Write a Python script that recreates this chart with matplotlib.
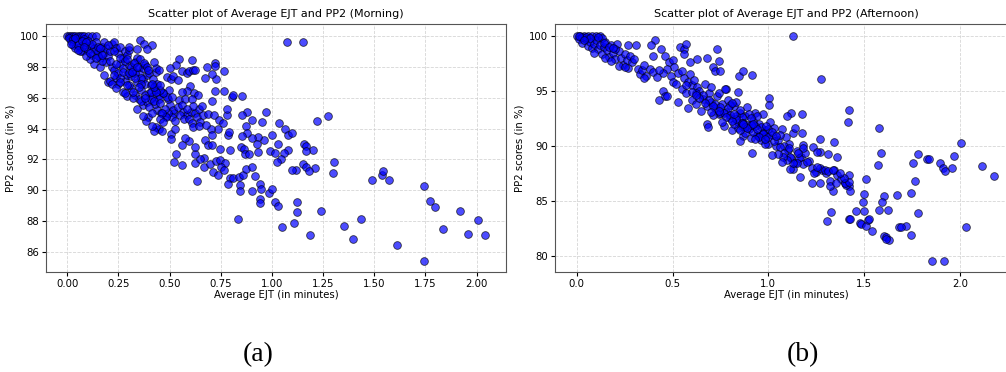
import matplotlib
matplotlib.use("Agg")
import matplotlib.pyplot as plt

# Morning: average EJT (minutes) vs PP2 score (%)
morning_ejt = [
    # dense band near the origin
    0.00, 0.01, 0.02, 0.03, 0.04, 0.05, 0.06, 0.07, 0.08, 0.10, 0.12, 0.14,
    0.02, 0.03, 0.04, 0.05, 0.06, 0.07, 0.08, 0.09, 0.10, 0.11, 0.12, 0.13,
    0.14, 0.15, 0.16, 0.17, 0.18, 0.19, 0.20, 0.21, 0.22, 0.23, 0.24, 0.25,
    0.26, 0.27, 0.28, 0.29, 0.30, 0.13, 0.16, 0.11, 0.09, 0.06, 0.18, 0.20,
    0.21, 0.22, 0.23, 0.24, 0.25, 0.26, 0.27, 0.28, 0.29, 0.30, 0.31, 0.32,
    0.33, 0.34, 0.35, 0.36, 0.37, 0.38, 0.39, 0.40, 0.41, 0.42, 0.43, 0.25,
    0.27, 0.29, 0.31, 0.33, 0.35, 0.37, 0.39, 0.30, 0.32, 0.34, 0.36, 0.28,
    0.26, 0.22, 0.24, 0.19, 0.17, 0.15, 0.14, 0.26, 0.28, 0.31, 0.33, 0.35,
    0.37, 0.40, 0.42, 0.44, 0.38, 0.34, 0.30, 0.36, 0.41, 0.44, 0.43, 0.46,
    0.38, 0.40, 0.45, 0.47, 0.50, 0.49, 0.52, 0.48, 0.01, 0.03, 0.05, 0.08,
    0.10, 0.04, 0.07, 0.12, 0.15, 0.09, 0.18, 0.20, 0.23, 0.16,
    0.02, 0.05, 0.08, 0.11, 0.14, 0.17, 0.21, 0.24, 0.27, 0.30, 0.33, 0.36,
    0.23, 0.26, 0.29, 0.32, 0.35, 0.38, 0.41,
    # upper-middle spread
    0.547, 0.609, 0.529, 0.502, 0.485, 0.505, 0.518, 0.539, 0.560, 0.583,
    0.593, 0.616, 0.624, 0.601, 0.583, 0.559, 0.621, 0.640, 0.544, 0.575,
    0.609, 0.498, 0.485, 0.510, 0.469, 0.453, 0.436, 0.425, 0.412, 0.453,
    0.446, 0.423, 0.453, 0.432, 0.436, 0.423, 0.450, 0.412, 0.355, 0.375,
    0.388, 0.339, 0.355, 0.376, 0.388, 0.396, 0.326, 0.316, 0.339, 0.290,
    # middle cluster
    0.518, 0.542, 0.559, 0.567, 0.583, 0.603, 0.624, 0.645, 0.656, 0.612,
    0.583, 0.550, 0.570, 0.594, 0.632, 0.661, 0.510, 0.493, 0.477, 0.482,
    0.464, 0.453, 0.446, 0.436, 0.425, 0.464, 0.469, 0.412, 0.396, 0.383,
    0.368, 0.412, 0.609, 0.648, 0.614, 0.642,
    # lower-middle spread
    0.855, 0.803, 0.811, 0.764, 0.723, 0.722, 0.728, 0.708, 0.671, 0.684,
    0.765, 0.722, 0.705, 0.687, 0.717, 0.741, 0.759, 0.738, 0.700, 0.678,
    0.707, 0.671, 0.687, 0.708, 0.744, 0.793, 0.783, 0.790, 0.782, 0.779,
    0.666, 0.697, 0.726, 0.746, 0.772, 0.749, 0.765, 0.712, 0.738, 0.795,
    0.785, 0.811, 0.840, 0.857, 0.873, 0.901, 0.917, 0.941, 0.945, 0.904,
    0.844, 0.844, 0.940, 0.940, 0.988, 1.002, 1.016, 1.028, 0.632, 0.668,
    0.622, 0.648, 0.622, 0.622, 0.593, 0.575, 0.562, 0.559, 0.520, 0.533,
    0.505, 0.508, 0.528, 0.526,
    # right tail
    1.075, 1.153, 1.741, 1.773, 1.795, 1.917, 2.005, 1.834, 1.956, 2.041,
    1.609, 1.741, 1.489, 1.536, 1.544, 1.573, 1.435, 1.353, 1.396, 1.239,
    1.184, 1.106, 1.050, 1.122, 1.122, 0.832, 1.274, 1.218, 1.303, 1.298,
    1.210, 1.199, 1.156, 1.169, 1.165, 1.153, 1.169, 1.181, 1.117, 1.096,
    1.036, 1.066, 1.081, 1.096, 1.078, 1.059, 1.029, 1.044, 1.026, 1.002,
    0.993, 1.016, 0.970, 0.954, 0.959, 0.930, 0.904, 0.925, 0.932, 0.904,
    0.876, 0.855, 0.873, 0.878, 0.847, 0.863, 0.868, 0.888, 0.855,
]
morning_pp2 = [
    100.0, 100.0, 100.0, 100.0, 100.0, 100.0, 100.0, 100.0, 100.0, 100.0, 100.0, 100.0,
    99.7, 99.4, 99.2, 99.6, 99.3, 99.0, 99.5, 99.2, 99.0, 99.4, 98.8, 99.2,
    99.6, 99.0, 98.6, 99.3, 98.9, 99.2, 98.7, 99.0, 99.5, 99.6, 99.2, 98.9,
    99.3, 98.6, 99.0, 98.8, 99.1, 98.2, 98.0, 98.5, 98.7, 99.0, 97.5, 97.0,
    97.1, 98.0, 97.8, 97.3, 97.6, 98.2, 97.9, 97.1, 97.5, 98.1, 97.4, 97.8,
    98.3, 97.0, 97.6, 96.5, 97.2, 96.9, 97.5, 96.3, 96.8, 96.1, 96.5, 96.9,
    96.4, 96.1, 96.6, 96.2, 95.9, 95.5, 95.7, 96.8, 96.0, 95.3, 95.8, 96.3,
    97.3, 96.9, 96.6, 98.3, 98.4, 98.7, 99.1, 98.6, 98.4, 98.0, 97.6, 98.0,
    97.9, 97.6, 97.2, 96.9, 98.1, 98.6, 99.3, 97.3, 95.9, 95.2, 95.6, 95.0,
    96.2, 95.4, 96.2, 96.3, 95.5, 95.9, 95.0, 94.8, 99.9, 99.8, 99.4, 99.8,
    99.7, 99.9, 99.7, 99.5, 99.3, 99.6, 99.6, 99.4, 99.0, 99.2,
    99.5, 99.1, 99.3, 98.9, 98.6, 98.8, 98.4, 98.2, 97.7, 97.6, 97.3, 96.9,
    97.5, 97.0, 96.8, 96.4, 96.7, 96.0, 96.4,
    98.48, 98.44, 98.10, 97.90, 97.32, 97.19, 97.40, 97.14, 97.71, 97.58,
    97.73, 97.79, 97.79, 96.75, 96.45, 96.39, 96.32, 96.17, 95.84, 95.89,
    95.93, 96.49, 96.06, 96.06, 96.28, 96.49, 96.39, 96.67, 96.86, 96.82,
    95.89, 95.80, 95.67, 97.68, 97.90, 98.33, 97.79, 99.42, 99.74, 99.46,
    99.16, 99.13, 98.48, 98.23, 97.97, 97.79, 98.23, 97.68, 98.01, 98.48,
    95.19, 95.37, 95.52, 95.09, 94.87, 95.09, 94.98, 95.24, 95.45, 95.45,
    95.30, 94.87, 94.59, 94.59, 94.76, 94.87, 94.76, 94.98, 95.30, 94.76,
    94.98, 94.65, 94.00, 94.11, 93.85, 93.85, 94.44, 94.16, 94.76, 94.50,
    94.83, 94.98, 94.37, 94.44, 94.11, 94.16,
    96.13, 96.04, 96.17, 97.73, 98.23, 98.07, 97.23, 97.53, 97.27, 98.01,
    96.43, 96.41, 95.80, 94.96, 94.87, 94.55, 94.33, 93.96, 93.96, 94.26,
    93.57, 93.29, 92.92, 92.92, 92.68, 92.60, 93.57, 93.79, 94.87, 95.30,
    91.51, 91.73, 91.88, 91.99, 91.75, 91.51, 91.30, 91.19, 91.02, 90.82,
    90.43, 90.82, 90.87, 91.02, 91.41, 91.51, 90.91, 90.43, 90.09, 89.94,
    90.33, 89.96, 89.44, 89.16, 89.85, 90.09, 89.24, 88.98, 90.63, 92.06,
    91.75, 92.03, 92.34, 92.81, 93.20, 93.42, 92.92, 91.62, 91.80, 92.34,
    93.68, 93.33, 93.98, 94.46,
    99.60, 99.60, 90.26, 89.33, 88.92, 88.66, 88.05, 87.47, 87.14, 87.10,
    86.43, 85.39, 90.65, 91.00, 91.28, 90.65, 88.14, 87.66, 86.82, 88.68,
    87.10, 87.86, 87.64, 88.60, 89.24, 88.14, 94.83, 94.52, 91.84, 91.13,
    91.47, 92.64, 93.03, 92.90, 92.55, 91.73, 91.50, 91.27, 91.34, 91.34,
    94.33, 93.96, 93.57, 93.72, 92.64, 92.42, 92.99, 92.01, 91.80, 93.57,
    92.53, 92.42, 95.06, 94.44, 93.29, 93.46, 93.38, 92.99, 92.47, 94.57,
    95.09, 94.89, 94.16, 93.72, 92.81, 92.66, 92.34, 92.34, 93.53,
]

# Afternoon: average EJT (minutes) vs PP2 score (%)
afternoon_ejt = [
    0.00, 0.02, 0.04, 0.06, 0.08, 0.10, 0.12, 0.01, 0.03, 0.05, 0.06, 0.07,
    0.08, 0.09, 0.10, 0.11, 0.12, 0.13, 0.14, 0.15, 0.16, 0.17, 0.18, 0.19,
    0.20, 0.21, 0.22, 0.23, 0.24, 0.25, 0.26, 0.27, 0.28, 0.29, 0.30, 0.31,
    0.27, 0.32, 0.33, 0.34, 0.35, 0.36, 0.13, 0.15, 0.18, 0.20, 0.22, 0.25,
    0.09, 0.11, 0.03, 0.05, 0.07, 0.01, 0.04, 0.14, 0.17, 0.19,
    0.38, 0.40, 0.42, 0.40, 0.41, 0.39, 0.44, 0.46, 0.48, 0.50, 0.51, 0.47,
    0.45, 0.43, 0.49, 0.50, 0.53, 0.55, 0.56, 0.58, 0.60, 0.55, 0.57, 0.53,
    0.58, 0.60, 0.62, 0.59, 0.61, 0.63, 0.45, 0.46, 0.43, 0.47, 0.54, 0.56,
    0.56, 0.57, 0.59, 0.63, 0.68, 0.71, 0.72, 0.73, 0.74, 0.75, 0.52, 0.35,
    0.64, 0.66, 0.68, 0.70, 0.72, 0.74, 0.76, 0.78, 0.80, 0.82, 0.84, 0.86,
    0.88, 0.90, 0.92, 0.94, 0.96, 0.98, 1.00, 1.02, 1.04, 0.65, 0.67, 0.69,
    0.71, 0.73, 0.75, 0.77, 0.79, 0.81, 0.83, 0.85, 0.87, 0.89, 0.91, 0.93,
    0.95, 0.97, 0.99, 1.01, 1.03, 1.05, 1.07, 1.09, 1.11, 1.13, 1.15, 1.17,
    1.19, 1.21, 1.23, 1.25, 1.12, 1.10, 1.08, 1.06, 1.14, 1.16, 1.18, 1.20,
    0.78, 0.70, 0.68, 0.62, 0.74, 0.80, 0.88, 0.90, 0.96, 0.86, 0.92, 0.94,
    0.98, 0.84, 0.82, 1.00, 1.28, 1.30, 1.34, 1.36, 1.38, 1.40, 1.32, 1.42,
    1.27, 0.85, 0.87, 0.89, 0.91, 0.93, 0.95, 0.97, 0.79, 0.81, 0.83,
    # extra points in the dense middle of the band
    0.66, 0.69, 0.72, 0.75, 0.77, 0.80, 0.83, 0.86, 0.88, 0.91, 0.94, 0.97,
    1.00, 1.03, 0.67, 0.71, 0.74, 0.78, 0.81, 0.85, 0.89, 0.92, 0.95, 0.99,
    1.02, 1.06, 0.64, 0.70, 0.76, 0.82, 0.87, 0.93, 0.98, 1.04, 1.08, 1.11,
    0.60, 0.57, 0.62,
    # scattered points
    1.129, 1.277, 1.419, 1.417, 1.579, 1.588, 1.574, 1.783, 1.757, 1.830,
    1.840, 1.896, 1.913, 1.922, 1.960, 1.969, 2.007, 2.117, 2.179, 1.765,
    1.743, 1.779, 1.744, 1.673, 1.717, 1.680, 1.690, 2.030, 1.854, 1.918,
    1.601, 1.595, 1.579, 1.624, 1.603, 1.614, 1.631, 1.612, 1.510, 1.501,
    1.496, 1.501, 1.456, 1.423, 1.424, 1.478, 1.483, 1.510, 1.522, 1.527,
    1.541, 1.327, 1.306, 1.344, 1.360, 1.310, 1.407, 1.426, 1.402, 1.423,
    1.419, 1.397, 1.336, 1.322, 1.355, 1.270, 1.270, 1.231, 1.252, 1.270,
    1.226, 1.238, 1.252, 1.296, 1.313, 1.339, 1.374, 1.165, 1.129, 1.113,
    1.174, 1.177, 1.117, 1.099, 1.139, 1.183, 1.183, 1.157, 1.148, 1.130,
    1.113, 1.096, 1.078, 1.052, 1.070, 1.017, 1.005, 1.005, 0.917, 0.852,
    0.845, 0.870, 0.913, 0.776, 0.687, 0.843,
]
afternoon_pp2 = [
    100.0, 100.0, 100.0, 100.0, 100.0, 100.0, 100.0, 99.7, 99.4, 99.7, 99.1, 99.5,
    98.9, 99.3, 99.6, 98.8, 99.2, 98.4, 99.0, 99.5, 98.7, 98.1, 99.2, 98.5,
    97.9, 99.3, 98.6, 98.0, 97.4, 98.4, 97.8, 97.1, 98.2, 97.6, 97.9, 99.2,
    99.2, 97.0, 96.5, 96.9, 97.4, 96.4, 99.8, 98.0, 97.7, 98.8, 97.3, 97.2,
    98.5, 99.9, 99.9, 99.9, 99.8, 100.0, 99.6, 99.4, 99.0, 98.9,
    97.0, 96.7, 96.3, 98.2, 99.6, 99.2, 98.8, 98.2, 97.6, 97.8, 97.2, 97.0,
    96.6, 96.9, 96.4, 95.8, 96.6, 96.8, 96.2, 95.8, 95.5, 95.2, 94.8, 94.0,
    93.4, 94.2, 93.8, 96.5, 96.0, 95.4, 95.0, 94.5, 94.2, 94.5, 99.0, 98.8,
    98.4, 99.3, 97.6, 97.9, 98.0, 97.2, 96.8, 98.8, 97.7, 96.8, 95.6, 96.2,
    95.0, 94.3, 93.6, 94.0, 93.4, 92.9, 93.8, 93.1, 92.5, 93.6, 92.2, 91.8,
    92.7, 91.5, 92.3, 91.0, 90.5, 91.4, 90.2, 91.0, 90.0, 93.2, 95.6, 94.8,
    92.8, 94.5, 93.0, 91.8, 94.2, 91.4, 94.0, 93.0, 90.9, 93.5, 90.7, 93.0,
    92.0, 92.9, 90.9, 92.2, 91.6, 90.5, 91.5, 90.8, 90.2, 91.2, 89.5, 89.0,
    89.3, 88.6, 88.0, 87.6, 88.9, 89.6, 90.0, 91.0, 88.4, 88.9, 88.3, 88.5,
    95.2, 95.4, 92.0, 94.8, 94.8, 93.7, 91.2, 92.9, 91.7, 92.6, 91.3, 92.7,
    90.2, 91.6, 92.0, 91.5, 87.8, 87.5, 87.8, 87.3, 87.0, 86.6, 86.8, 86.3,
    88.0, 93.3, 92.1, 91.9, 92.5, 91.8, 90.9, 91.2, 93.4, 93.9, 92.7,
    94.6, 94.2, 93.8, 93.5, 93.0, 92.8, 92.4, 92.1, 91.7, 91.9, 91.5, 91.1,
    90.8, 90.4, 93.9, 93.6, 93.2, 92.6, 92.3, 91.4, 91.6, 92.0, 90.8, 91.8,
    91.3, 89.9, 94.4, 93.1, 92.2, 92.9, 92.0, 90.6, 90.6, 90.9, 89.3, 89.8,
    94.9, 95.5, 94.6,
    100.0, 96.08, 93.26, 92.17, 91.65, 89.38, 88.26, 89.26, 88.41, 88.77,
    88.77, 88.41, 88.01, 87.74, 87.95, 89.07, 90.29, 88.16, 87.25, 86.83,
    85.74, 83.92, 81.88, 85.52, 82.70, 82.64, 82.58, 82.58, 79.51, 79.51,
    85.43, 84.86, 84.16, 84.16, 81.79, 81.67, 81.43, 81.55, 86.98, 85.61,
    84.92, 84.07, 84.07, 83.37, 83.31, 82.94, 82.88, 82.70, 83.25, 83.31,
    82.25, 83.95, 83.13, 90.35, 88.95, 89.29, 86.43, 85.92, 86.64, 87.34,
    86.74, 87.04, 85.86, 86.37, 86.59, 90.59, 89.47, 89.92, 89.47, 86.65,
    86.65, 87.50, 88.10, 87.80, 87.74, 87.80, 87.50, 87.19, 87.86, 87.86,
    91.14, 92.93, 92.96, 92.72, 91.59, 90.08, 89.77, 89.32, 88.47, 88.47,
    89.01, 88.71, 89.01, 89.23, 88.56, 89.17, 94.32, 93.69, 89.38, 90.41,
    96.36, 96.84, 96.42, 95.14, 91.75, 94.93,
]

morning_xticks = [0.0, 0.25, 0.5, 0.75, 1.0, 1.25, 1.5, 1.75, 2.0]
morning_yticks = [86, 88, 90, 92, 94, 96, 98, 100]
afternoon_xticks = [0.0, 0.5, 1.0, 1.5, 2.0]
afternoon_yticks = [80, 85, 90, 95, 100]

W, H = 1006, 372
fig = plt.figure(figsize=(W / 100, H / 100), dpi=100)

ax1 = fig.add_axes([46 / W, 100 / H, 460 / W, 248 / H])
ax2 = fig.add_axes([555 / W, 100 / H, 462 / W, 248 / H])

panels = [
    (ax1, morning_ejt, morning_pp2, "Morning", morning_xticks, morning_yticks,
     (-0.104, 2.144), (84.7, 100.78), "{:.2f}"),
    (ax2, afternoon_ejt, afternoon_pp2, "Afternoon", afternoon_xticks, afternoon_yticks,
     (-0.113, 2.297), (78.5, 101.1), "{:.1f}"),
]

for ax, xs, ys, period, xt, yt, xl, yl, fmt in panels:
    ax.scatter(xs, ys, s=31, c="blue", alpha=0.7, edgecolors="black", linewidths=0.6)
    ax.set_title(f"Scatter plot of Average EJT and PP2 ({period})", fontsize=8, pad=5)
    ax.set_xlabel("Average EJT (in minutes)", fontsize=7.3, labelpad=1)
    ax.set_ylabel("PP2 scores (in %)", fontsize=7.3, labelpad=3)
    ax.set_xticks(xt)
    ax.set_xticklabels([fmt.format(v) for v in xt])
    ax.set_yticks(yt)
    ax.set_xlim(*xl)
    ax.set_ylim(*yl)
    ax.tick_params(labelsize=7.3, length=3, pad=2)
    ax.grid(True, linestyle="--", color="#cccccc", linewidth=0.6, alpha=0.8)
    ax.set_axisbelow(True)
    for sp in ax.spines.values():
        sp.set_color("#555555")

fig.text(258 / W, 1 - 355 / H, "(a)", family="Liberation Serif", fontsize=20,
         ha="center", va="center")
fig.text(803 / W, 1 - 355 / H, "(b)", family="Liberation Serif", fontsize=20,
         ha="center", va="center")

fig.savefig("out.png", dpi=100)
